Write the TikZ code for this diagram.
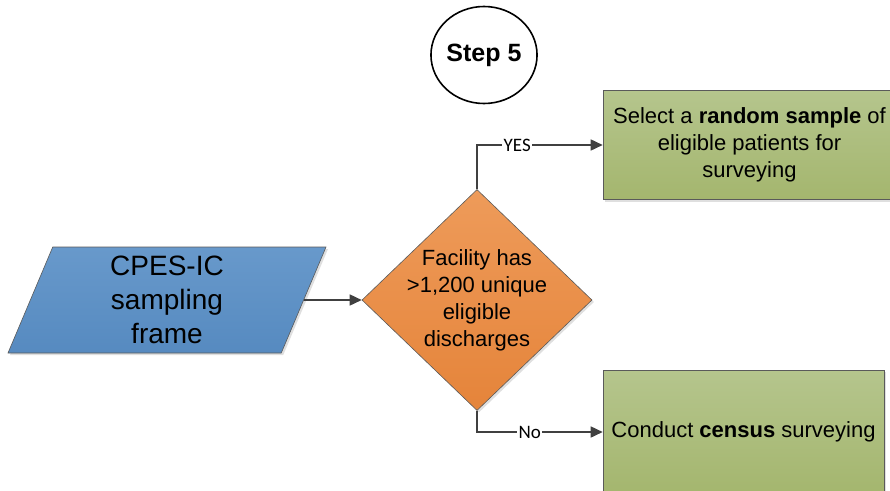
\documentclass[tikz,border=0pt]{standalone}
\usepackage{fontspec}
\setmainfont{Liberation Sans}
\newfontfamily\labelfont{Carlito}
\usepackage{tikz}
\usetikzlibrary{shapes.geometric,arrows.meta,shadows}
\definecolor{linegray}{HTML}{404040}
\definecolor{edgegray}{HTML}{5A5A5A}
\tikzstyle{shade} = [drop shadow={shadow xshift=2pt, shadow yshift=-2pt, opacity=0.25}]
\tikzstyle{io} = [trapezium, trapezium left angle=63, trapezium right angle=117, trapezium stretches body=true, minimum width=318pt, minimum height=106pt, inner sep=0pt, draw=edgegray, line width=0.6pt, top color={rgb,255:red,104;green,153;blue,203}, bottom color={rgb,255:red,86;green,138;blue,192}, shade, align=center, font=\fontsize{28}{34}\selectfont]
\tikzstyle{decision} = [diamond, minimum width=230pt, minimum height=221pt, inner sep=0pt, draw=edgegray, line width=0.6pt, top color={rgb,255:red,238;green,155;blue,90}, bottom color={rgb,255:red,229;green,132;blue,58}, shade]
\tikzstyle{decisiontext} = [align=center, inner sep=0pt, font=\fontsize{22}{27}\selectfont]
\tikzstyle{process} = [rectangle, inner sep=4pt, draw=edgegray, line width=0.6pt, top color={rgb,255:red,181;green,197;blue,141}, bottom color={rgb,255:red,164;green,182;blue,110}, shade, align=center, font=\fontsize{22}{27}\selectfont]
\tikzstyle{stepcircle} = [ellipse, minimum width=104pt, minimum height=97pt, inner sep=0pt, draw=black, line width=1.6pt, fill=white, font=\bfseries\fontsize{25}{25}\selectfont]
\tikzstyle{arrow} = [line width=1.6pt, draw=linegray, -{Triangle[length=12pt,width=11pt]}]
\tikzstyle{answer} = [fill=white, inner sep=1.5pt, font=\labelfont\fontsize{19}{19}\selectfont]

\begin{document}
\begin{tikzpicture}[x=1pt, y=-1pt]
\useasboundingbox (0,0) rectangle (890,490);
\node (step) [stepcircle] at (484,55) {Step 5};
\node (frame) [io] at (167,300) {CPES-IC\\sampling\\frame};
\node (check) [decision] at (477,300) {};
\node (checktext) [decisiontext] at (check.center) {Facility has\\>1,200 unique\\eligible\\discharges};
\node (random) [process, minimum width=293pt, minimum height=109pt] at (749.5,145) {Select a \textbf{random sample} of\\eligible patients for\\surveying};
\node (census) [process, minimum width=281pt, minimum height=124pt] at (743.5,432) {Conduct \textbf{census} surveying};

\draw [arrow] (frame.east) -- (check.west);
\draw [arrow] (check.north) |- node[answer, pos=0.66] {YES} (random.west);
\draw [arrow] (check.south) |- node[answer, pos=0.71] {No} (census.west);
\end{tikzpicture}
\end{document}
